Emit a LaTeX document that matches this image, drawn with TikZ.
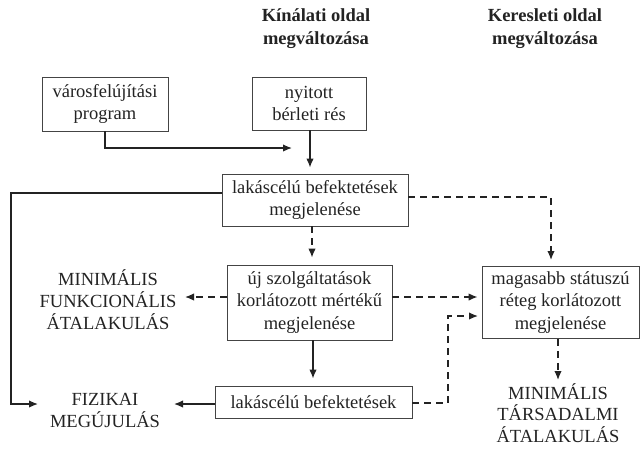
\documentclass[tikz,border=0pt]{standalone}
\usepackage{fontspec}
\setmainfont{Liberation Serif}
\usetikzlibrary{arrows.meta}
\definecolor{ink}{RGB}{35,35,35}
\begin{document}
\begin{tikzpicture}[x=1pt,y=-1pt,
  box/.style={draw=ink!85, line width=0.9pt, inner sep=0pt, align=center, text=ink, font=\fontsize{18.5}{22.5}\selectfont},
  lbl/.style={align=center, text=ink, font=\fontsize{18.5}{22}\selectfont, inner sep=0pt},
  hdr/.style={align=center, text=ink, font=\fontsize{18.5}{23}\selectfont\bfseries, inner sep=0pt},
  conn/.style={draw=ink, line width=1.4pt, -{Latex[length=9pt,width=7.5pt]}},
  dconn/.style={conn, dash pattern=on 7pt off 5pt},
]
\useasboundingbox (0,0) rectangle (640,448);
% headers
\node[hdr] (h1) at (316,29) {Kínálati oldal\\megváltozása};
\node[hdr] (h2) at (545,29) {Keresleti oldal\\megváltozása};
% boxes
\node[box, minimum width=126pt, minimum height=54pt] (vp) at (105,104) {városfelújítási\\program};
\node[box, minimum width=114pt, minimum height=53pt] (ny) at (309,103.5) {nyitott\\bérleti rés};
\node[box, minimum width=186pt, minimum height=52pt] (lb1) at (315,200) {lakáscélú befektetések\\megjelenése};
\node[box, minimum width=165pt, minimum height=75pt] (uj) at (309.5,302.5) {új szolgáltatások\\korlátozott mértékű\\megjelenése};
\node[box, minimum width=157pt, minimum height=72pt] (mag) at (560.5,302.5) {magasabb státuszú\\réteg korlátozott\\megjelenése};
\node[box, minimum width=197pt, minimum height=32pt] (lb2) at (313.5,402) {lakáscélú befektetések};
% outcome labels
\node[lbl] (mfa) at (108,300) {MINIMÁLIS\\FUNKCIONÁLIS\\ÁTALAKULÁS};
\node[lbl] (fm) at (105,410) {FIZIKAI\\MEGÚJULÁS};
\node[lbl, font=\fontsize{18.5}{21.5}\selectfont] (mta) at (558,413) {MINIMÁLIS\\TÁRSADALMI\\ÁTALAKULÁS};
% coordinates
\coordinate (vpend) at (292,148);
\coordinate (lcorner) at (11,404);
\coordinate (fmin) at (38,404);
\coordinate (magtop) at (551,260);
\coordinate (mfaend) at (185,297);
\coordinate (fmend) at (174,404);
\coordinate (dcorner) at (448,316);
\coordinate (magin) at (478,316);
\coordinate (mtaend) at (558,380);
% connectors
\draw[conn] (vp.south) |- (vpend);
\draw[conn, shorten >=6pt] ([xshift=1pt]ny.south) -- ([xshift=1pt]ny.south |- lb1.north);
\draw[conn] ([yshift=7pt]lb1.west) -| (lcorner) -- (fmin);
\draw[dconn] ([yshift=3pt]lb1.east) -| (magtop);
\draw[dconn, shorten >=7pt] ([xshift=-3pt]lb1.south) -- ([xshift=2.5pt]uj.north);
\draw[dconn] ([yshift=5.5pt]uj.west) -- (mfaend);
\draw[dconn, shorten >=4pt] ([yshift=5.5pt]uj.east) -- ([yshift=5.5pt]mag.west);
\draw[conn, shorten >=7pt] ([xshift=3.5pt]uj.south) -- ([xshift=-0.5pt]lb2.north);
\draw[conn] ([yshift=-2pt]lb2.west) -- (fmend);
\draw[dconn] ([yshift=-1pt]lb2.east) -| (dcorner) -- (magin);
\draw[dconn] ([xshift=-2.5pt]mag.south) -- (mtaend);
\end{tikzpicture}
\end{document}
